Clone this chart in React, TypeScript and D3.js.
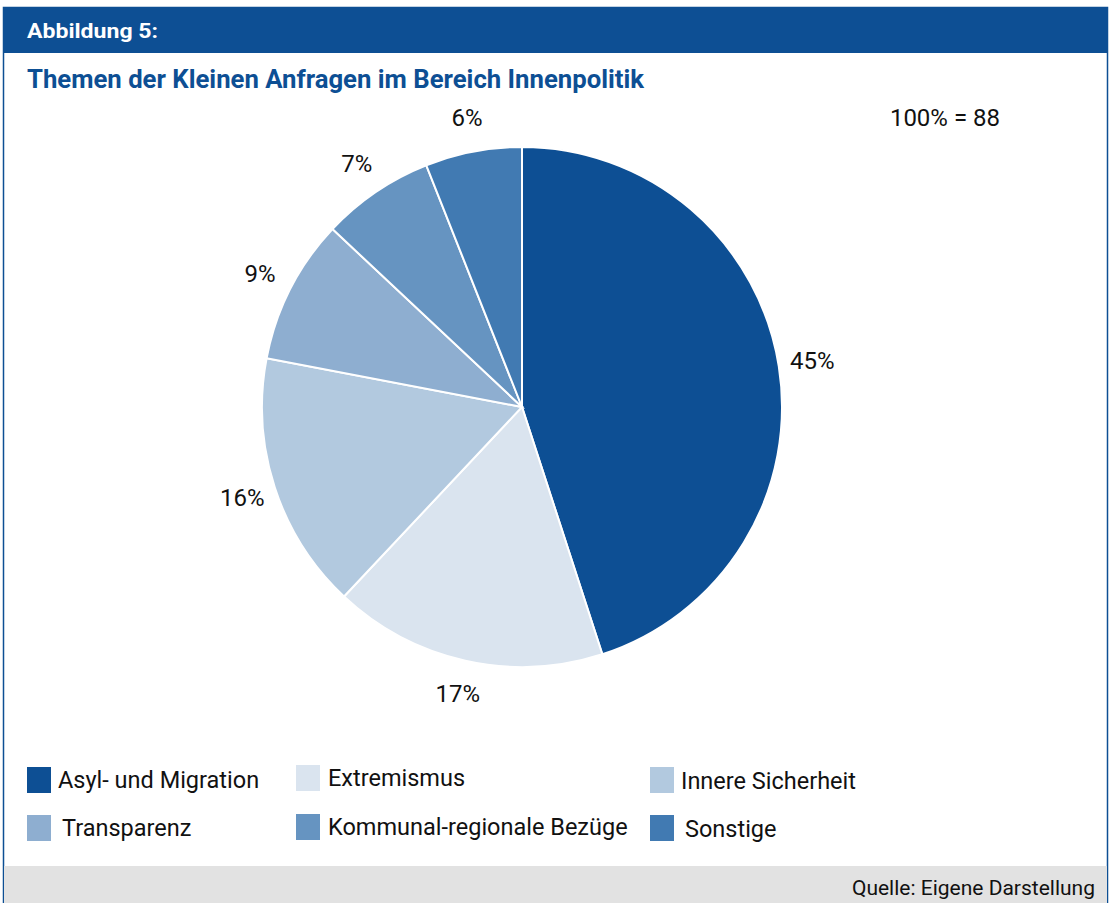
import React from "react";
import * as d3 from "d3";

const categories = ["Asyl- und Migration", "Extremismus", "Innere Sicherheit", "Transparenz", "Kommunal-regionale Bezüge", "Sonstige"];
const values = [45, 17, 16, 9, 7, 6];
const colors = ["#0d4f94", "#dae4ef", "#b2c9df", "#8eaed0", "#6694c1", "#417ab2"];
const total = "100% = 88";

const W = 1111, H = 903;
const cx = 522, cy = 407, R = 260, LR = 294;
const FONT = "Roboto, 'Noto Sans', sans-serif";

const legendPos = [
  { x: 27, y: 767, tx: 58, ty: 788 },
  { x: 296, y: 765, tx: 328, ty: 786 },
  { x: 650, y: 767, tx: 681, ty: 789 },
  { x: 27, y: 815, tx: 62, ty: 836 },
  { x: 296, y: 814, tx: 328, ty: 835 },
  { x: 650, y: 815, tx: 685, ty: 837 },
];

export default function App() {
  const pie = d3.pie<number>().sort(null).value((d) => d);
  const arcs = pie(values);
  const arc = d3.arc<d3.PieArcDatum<number>>().innerRadius(0).outerRadius(R);
  const labelArc = d3.arc<d3.PieArcDatum<number>>().innerRadius(LR).outerRadius(LR);
  return (
    <svg width={W} height={H} style={{ position: "absolute", left: 0, top: 0 }} fontFamily={FONT}>
      <rect x={3.5} y={7.5} width={1104} height={H} fill="#fff" stroke="#0d4f94" strokeWidth={1.5} />
      <rect x={3} y={7} width={1105} height={46} fill="#0d4f94" />
      <text x={27} y={38} fill="#fff" fontSize={21} fontWeight={700} textLength={131} lengthAdjust="spacingAndGlyphs">Abbildung 5:</text>
      <text x={27} y={88} fill="#0d4f94" fontSize={25} fontWeight={700} textLength={617} lengthAdjust="spacingAndGlyphs">Themen der Kleinen Anfragen im Bereich Innenpolitik</text>
      <text x={1000} y={126} fontSize={24} textAnchor="end" fill="#111">{total}</text>
      <g transform={`translate(${cx},${cy})`}>
        {arcs.map((a, i) => (
          <path key={i} d={arc(a) || ""} fill={colors[i]} stroke="#fff" strokeWidth={2} />
        ))}
        {arcs.map((a, i) => {
          const [x, y] = labelArc.centroid(a);
          return (
            <text key={"l" + i} x={x} y={y} fontSize={24} textAnchor="middle" dominantBaseline="central" fill="#111">
              {values[i]}%
            </text>
          );
        })}
      </g>
      {categories.map((c, i) => (
        <g key={"lg" + i}>
          <rect x={legendPos[i].x} y={legendPos[i].y} width={24} height={26} fill={colors[i]} />
          <text x={legendPos[i].tx} y={legendPos[i].ty} fontSize={23.5} fill="#111">{c}</text>
        </g>
      ))}
      <rect x={4} y={866} width={1103} height={37} fill="#e2e2e2" />
      <text x={1095} y={895} fontSize={21} textAnchor="end" fill="#111">Quelle: Eigene Darstellung</text>
    </svg>
  );
}
